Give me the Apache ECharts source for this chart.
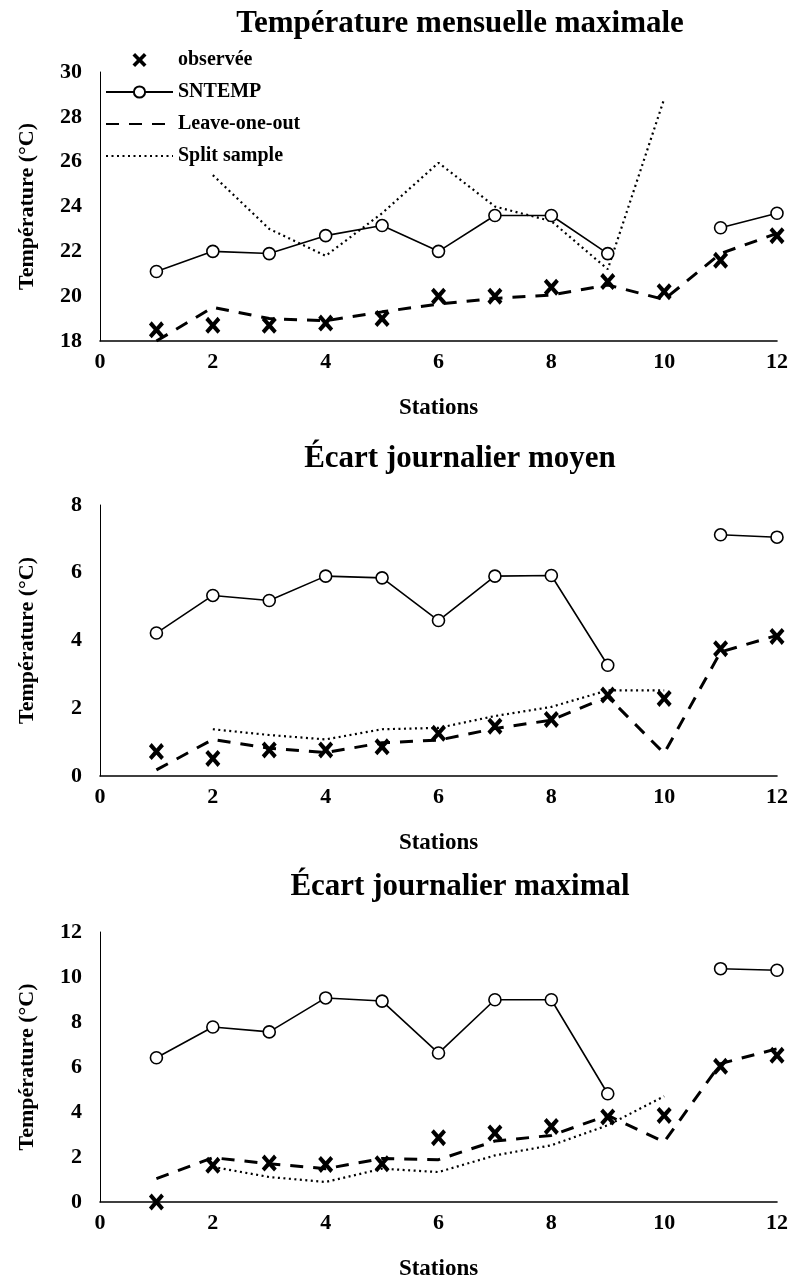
<!DOCTYPE html>
<html>
<head>
<meta charset="utf-8">
<script src="https://cdn.jsdelivr.net/npm/echarts@6/dist/echarts.min.js"></script>
<style>
  html, body { margin: 0; padding: 0; background: #fff; }
  #chart { width: 791px; height: 1282px; }
</style>
</head>
<body>
<div id="chart"></div>
<script>
// Stations 1..12 on the x axis
const stations = [1, 2, 3, 4, 5, 6, 7, 8, 9, 10, 11, 12];
const xTicks = [0, 2, 4, 6, 8, 10, 12];

const seriesNames = ['observée', 'SNTEMP', 'Leave-one-out', 'Split sample'];
const panelTitles = ['Température mensuelle maximale', 'Écart journalier moyen', 'Écart journalier maximal'];
const yAxisTitle = 'Température (°C)';
const xAxisTitle = 'Stations';

// Température mensuelle maximale (°C)
const tmaxObs    = [18.5, 18.7, 18.7, 18.8, 19.0, 20.0, 20.0, 20.4, 20.65, 20.2, 21.6, 22.7];
const tmaxSntemp = [21.1, 22.0, 21.9, 22.7, 23.15, 22.0, 23.6, 23.6, 21.9, null, 23.05, 23.7];
const tmaxLoo    = [18.0, 19.5, 19.0, 18.9, 19.3, 19.65, 19.9, 20.05, 20.5, 19.85, 21.9, 22.8];
const tmaxSplit  = [null, 25.4, 23.0, 21.8, 23.7, 25.95, 24.0, 23.35, 21.2, 28.8, null, null];

// Écart journalier moyen (°C)
const moyObs    = [0.72, 0.52, 0.77, 0.77, 0.86, 1.26, 1.47, 1.67, 2.39, 2.29, 3.76, 4.12];
const moySntemp = [4.22, 5.33, 5.18, 5.9, 5.85, 4.59, 5.9, 5.92, 3.27, null, 7.12, 7.05];
const moyLoo    = [0.18, 1.08, 0.82, 0.69, 0.98, 1.06, 1.4, 1.65, 2.34, 0.67, 3.66, 4.15];
const moySplit  = [null, 1.38, 1.21, 1.08, 1.38, 1.42, 1.77, 2.04, 2.53, 2.53, null, null];

// Écart journalier maximal (°C)
const maxObs    = [0.0, 1.63, 1.73, 1.67, 1.7, 2.86, 3.07, 3.36, 3.78, 3.85, 6.03, 6.52];
const maxSntemp = [6.41, 7.78, 7.56, 9.07, 8.93, 6.62, 8.99, 8.99, 4.81, null, 10.37, 10.3];
const maxLoo    = [1.04, 1.97, 1.7, 1.48, 1.93, 1.88, 2.71, 2.96, 3.85, 2.67, 6.15, 6.81];
const maxSplit  = [null, 1.56, 1.11, 0.89, 1.48, 1.33, 2.07, 2.52, 3.41, 4.7, null, null];

const yRanges = [
  { min: 18, max: 30, interval: 2 },
  { min: 0, max: 8, interval: 2 },
  { min: 0, max: 12, interval: 2 }
];

const panels = [
  [tmaxObs, tmaxSntemp, tmaxLoo, tmaxSplit],
  [moyObs, moySntemp, moyLoo, moySplit],
  [maxObs, maxSntemp, maxLoo, maxSplit]
];

const FONT = '"Liberation Serif", "DejaVu Serif", serif';
const INK = '#000';
const NO_FILL = 'rgba(0,0,0,0)';

// a thick "X" used for observed values
const crossPath = 'path://M0,2.2L2.2,0L6,3.8L9.8,0L12,2.2L8.2,6L12,9.8L9.8,12L6,8.2L2.2,12L0,9.8L3.8,6Z';

const gridBoxes = [
  { top: 72, height: 269 },
  { top: 505, height: 271 },
  { top: 932, height: 270 }
];
const titleTops = [3, 438, 866];

function pairs(values) {
  return stations.map((s, i) => [s, values[i] == null ? '-' : values[i]]);
}

const option = {
  backgroundColor: '#fff',
  animation: false,
  title: panelTitles.map((t, i) => ({
    text: t,
    left: 455,
    top: titleTops[i],
    textAlign: 'center',
    textStyle: { fontFamily: FONT, fontWeight: 'bold', fontSize: 31, color: INK }
  })),
  legend: {
    data: seriesNames,
    orient: 'vertical',
    left: 100,
    top: 45,
    itemWidth: 67,
    itemHeight: 14,
    itemGap: 12,
    selectedMode: false,
    textStyle: { fontFamily: FONT, fontWeight: 'bold', fontSize: 20, color: INK, lineHeight: 20 }
  },
  grid: gridBoxes.map(g => ({ left: 100, right: 13, top: g.top, height: g.height })),
  xAxis: gridBoxes.map((g, i) => ({
    type: 'value',
    gridIndex: i,
    min: 0,
    max: 12,
    interval: 2,
    name: xAxisTitle,
    nameLocation: 'middle',
    nameGap: 56,
    nameTextStyle: { fontFamily: FONT, fontWeight: 'bold', fontSize: 23, color: INK },
    axisLine: { show: true, onZero: false, lineStyle: { color: INK, width: 1.6 } },
    axisTick: { show: false },
    splitLine: { show: false },
    axisLabel: {
      margin: 10,
      fontFamily: FONT, fontWeight: 'bold', fontSize: 22, color: INK,
      formatter: v => (xTicks.indexOf(v) >= 0 ? String(v) : '')
    }
  })),
  yAxis: yRanges.map((r, i) => ({
    type: 'value',
    gridIndex: i,
    min: r.min,
    max: r.max,
    interval: r.interval,
    name: yAxisTitle,
    nameLocation: 'middle',
    nameRotate: 90,
    nameGap: 62,
    nameTextStyle: { fontFamily: FONT, fontWeight: 'bold', fontSize: 22, color: INK },
    axisLine: { show: true, onZero: false, lineStyle: { color: INK, width: 1 } },
    axisTick: { show: false },
    splitLine: { show: false },
    axisLabel: { margin: 18, fontFamily: FONT, fontWeight: 'bold', fontSize: 22, color: INK }
  })),
  series: []
};

panels.forEach((vals, i) => {
  const [obs, sntemp, loo, split] = vals;
  option.series.push(
    {
      name: 'Split sample', type: 'line', xAxisIndex: i, yAxisIndex: i,
      data: pairs(split), symbol: 'none', connectNulls: false,
      lineStyle: { color: INK, width: 2.2, type: [2, 3.5] },
      itemStyle: { color: NO_FILL, borderColor: NO_FILL }, z: 2
    },
    {
      name: 'Leave-one-out', type: 'line', xAxisIndex: i, yAxisIndex: i,
      data: pairs(loo), symbol: 'none', connectNulls: false,
      lineStyle: { color: INK, width: 3, type: [13, 10] },
      itemStyle: { color: NO_FILL, borderColor: NO_FILL }, z: 3
    },
    {
      name: 'SNTEMP', type: 'line', xAxisIndex: i, yAxisIndex: i,
      data: pairs(sntemp), symbol: 'circle', symbolSize: 12, connectNulls: false,
      lineStyle: { color: INK, width: 1.6 },
      itemStyle: { color: '#fff', borderColor: INK, borderWidth: 1.6 }, z: 4
    },
    {
      name: 'observée', type: 'scatter', xAxisIndex: i, yAxisIndex: i,
      data: pairs(obs), symbol: crossPath, symbolSize: [15, 17], clip: false,
      itemStyle: { color: INK, opacity: 1 }, z: 5
    }
  );
});

const chart = echarts.init(document.getElementById('chart'), null, { renderer: 'canvas' });
chart.setOption(option);
</script>
</body>
</html>
